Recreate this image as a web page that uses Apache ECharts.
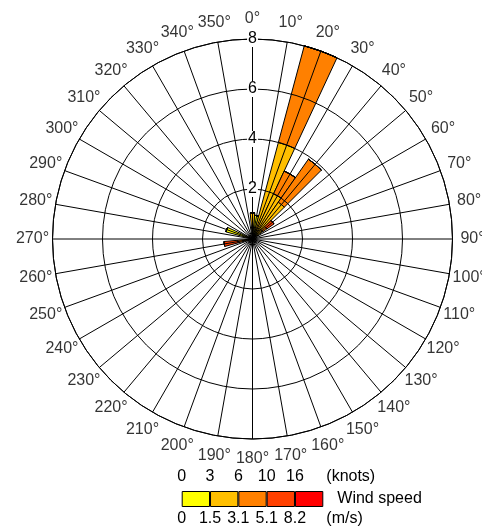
<!DOCTYPE html>
<html><head><meta charset="utf-8">
<script src="https://cdn.jsdelivr.net/npm/echarts@6/dist/echarts.min.js"></script>
<style>html,body{margin:0;padding:0;background:#fff}#c{width:482px;height:531px}</style>
</head><body><div id="c"></div>
<script>
// ---- data ----
const directions = [0,10,20,30,40,50,60,70,80,90,100,110,120,130,140,150,160,170,180,190,200,210,220,230,240,250,260,270,280,290,300,310,320,330,340,350];
const dirLabels = directions.map(d => d + '°');
const binColors = ['#FFFF00', '#FFBF00', '#FF8000', '#FF4000', '#FF0000'];
const knotTicks = ['0', '3', '6', '10', '16'];
const msTicks = ['0', '1.5', '3.1', '5.1', '8.2'];
const legendCategory = ['Wind speed'];
const radiusMax = 8;
const radiusStep = 2;
// frequency per direction, by speed bin (stacked outward)
//            0    10   20   30   40   50   60 70 80 90 100 110 120 130 140 150 160 170 180 190 200 210 220 230 240 250 260  270 280 290  300 310 320 330 340 350
const bin1 = [0.3, 0.95,0.4, 0.3, 0.3, 0.2, 0, 0, 0, 0, 0,  0,  0,  0,  0,  0,  0,  0,  0,  0,  0,  0,  0,  0,  0,  0,  0.2, 0,  0,  1.1, 0,  0,  0,  0,  0,  0];
const bin2 = [0.75,0,   3.6, 1.7, 1.5, 0.3, 0, 0, 0, 0, 0,  0,  0,  0,  0,  0,  0,  0,  0,  0,  0,  0,  0,  0,  0,  0,  0.2, 0,  0,  0,   0,  0,  0,  0,  0,  0];
const bin3 = [0,   0,   4.0, 1.0, 2.1, 0.2, 0, 0, 0, 0, 0,  0,  0,  0,  0,  0,  0,  0,  0,  0,  0,  0,  0,  0,  0,  0,  0.2, 0,  0,  0,   0,  0,  0,  0,  0,  0];
const bin4 = [0,   0,   0,   0,   0,   0.35,0, 0, 0, 0, 0,  0,  0,  0,  0,  0,  0,  0,  0,  0,  0,  0,  0,  0,  0,  0,  0.55,0,  0,  0,   0,  0,  0,  0,  0,  0];
const bin5 = [0,   0,   0,   0,   0,   0,   0, 0, 0, 0, 0,  0,  0,  0,  0,  0,  0,  0,  0,  0,  0,  0,  0,  0,  0,  0,  0,   0,  0,  0,   0,  0,  0,  0,  0,  0];
const bins = [bin1, bin2, bin3, bin4, bin5];

// ---- chart ----
const FONT = 'Liberation Sans, Arial, sans-serif';
const chart = echarts.init(document.getElementById('c'), null, {renderer: 'canvas'});
const center = [252.5, 239];
const R = 200;
const halfStep = 360 / directions.length / 2;

const barSeries = bins.map((b, i) => ({
  type: 'bar', coordinateSystem: 'polar', polarIndex: 0, stack: 'wind',
  data: b, barCategoryGap: '0%', z: 2,
  itemStyle: {color: binColors[i], borderColor: '#000', borderWidth: 1},
  silent: true
}));
const legendSeries = binColors.map((c, i) => ({
  type: 'bar', xAxisIndex: 0, yAxisIndex: 0, stack: 'legend',
  data: [1], barWidth: '100%',
  itemStyle: {color: c, borderColor: '#000', borderWidth: 1},
  silent: true
}));

chart.setOption({
  backgroundColor: '#fff',
  animation: false,
  textStyle: {fontFamily: FONT},
  polar: [
    {center: center, radius: R},
    {center: center, radius: R},
    {center: center, radius: R + 20}
  ],
  angleAxis: [
    {polarIndex: 0, type: 'category', data: dirLabels, startAngle: 90 + halfStep, clockwise: true,
     axisLine: {show: false}, axisTick: {show: false}, axisLabel: {show: false}, splitLine: {show: false}},
    {polarIndex: 1, type: 'value', min: 0, max: 360, interval: 10, startAngle: 90, clockwise: true, z: 10,
     axisLine: {show: true, lineStyle: {color: '#000', width: 1}},
     axisTick: {show: false}, axisLabel: {show: false},
     splitLine: {show: true, lineStyle: {color: '#000', width: 1}}},
    {polarIndex: 2, type: 'category', data: dirLabels, startAngle: 90 + halfStep, clockwise: true,
     axisLine: {show: false}, axisTick: {show: false}, axisLabel: {show: false}, splitLine: {show: false}}
  ],
  radiusAxis: [
    {polarIndex: 0, min: 0, max: radiusMax, show: false},
    {polarIndex: 1, min: 0, max: radiusMax, interval: radiusStep, z: 12,
     axisLine: {show: false}, axisTick: {show: false},
     splitLine: {show: true, lineStyle: {color: '#000', width: 1}},
     axisLabel: {show: true, margin: 0, align: 'center', verticalAlign: 'middle',
       color: '#000', fontSize: 16, fontFamily: FONT, backgroundColor: '#fff', padding: [0, 1],
       formatter: v => (v === 0 ? '' : String(v))}},
    {polarIndex: 2, min: 0, max: 1, show: false}
  ],
  grid: {left: 181.7, width: 141.6, top: 491, height: 18.6, containLabel: false},
  xAxis: [
    {type: 'value', min: 0, max: knotTicks.length, interval: 1, position: 'top',
     axisLine: {show: false}, axisTick: {show: false}, splitLine: {show: false},
     axisLabel: {margin: 6, color: '#000', fontSize: 16, fontFamily: FONT,
       formatter: v => knotTicks[v] !== undefined ? knotTicks[v] : ''},
     name: '(knots)\n', nameLocation: 'end', nameGap: 3, nameMoveOverlap: false,
     nameTextStyle: {color: '#000', fontSize: 16, fontFamily: FONT, align: 'left', verticalAlign: 'middle', lineHeight: 28}},
    {type: 'value', min: 0, max: msTicks.length, interval: 1, position: 'bottom',
     axisLine: {show: false}, axisTick: {show: false}, splitLine: {show: false},
     axisLabel: {margin: 4, color: '#000', fontSize: 16, fontFamily: FONT,
       formatter: v => msTicks[v] !== undefined ? msTicks[v] : ''},
     name: '\n(m/s)', nameLocation: 'end', nameGap: 3, nameMoveOverlap: false,
     nameTextStyle: {color: '#000', fontSize: 16, fontFamily: FONT, align: 'left', verticalAlign: 'middle', lineHeight: 24}}
  ],
  yAxis: [
    {type: 'category', data: legendCategory, position: 'right',
     axisLine: {show: false}, axisTick: {show: false}, splitLine: {show: false},
     axisLabel: {margin: 14, color: '#000', fontSize: 16, fontFamily: FONT}}
  ],
  series: [
    ...barSeries,
    {type: 'scatter', coordinateSystem: 'polar', polarIndex: 2,
     data: dirLabels.map(l => [1, l]), symbolSize: 1, itemStyle: {color: 'rgba(0,0,0,0)'},
     silent: true, z: 20,
     label: {show: true, position: 'inside', color: '#000', fontSize: 16, fontFamily: FONT,
       formatter: p => p.value[1]}},
    ...legendSeries
  ]
});
</script>
</body></html>
